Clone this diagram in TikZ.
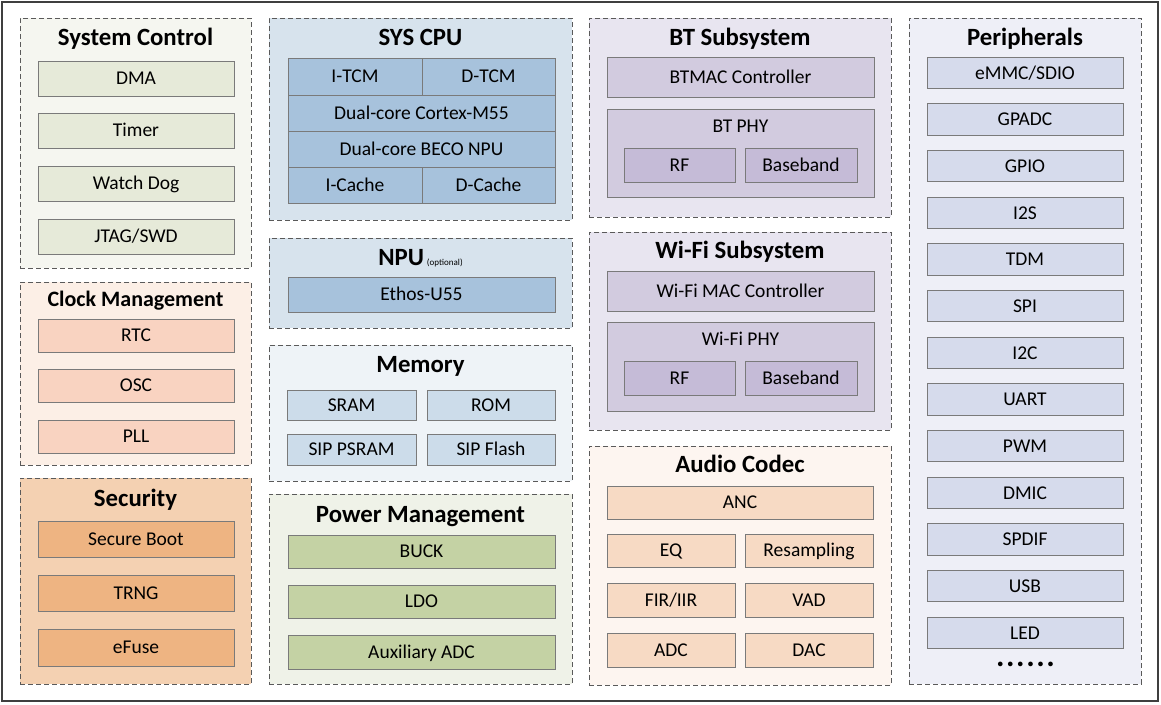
\documentclass[tikz,border=0pt]{standalone}
\usepackage{fontspec}
\setmainfont{Carlito}
\definecolor{dashc}{HTML}{5A5A5A}
\definecolor{boxc}{HTML}{7A7A7A}
\definecolor{framec}{HTML}{3F3F3F}
\definecolor{scG}{HTML}{F5F6F0}\definecolor{scB}{HTML}{E6EAD9}
\definecolor{clkG}{HTML}{FCEFE6}\definecolor{clkB}{HTML}{F9D3C1}
\definecolor{secG}{HTML}{F4D1B2}\definecolor{secB}{HTML}{EEB482}
\definecolor{cpuG}{HTML}{D7E3ED}\definecolor{cpuB}{HTML}{A7C2DC}
\definecolor{memG}{HTML}{EEF3F7}\definecolor{memB}{HTML}{CCDCEA}
\definecolor{pwrG}{HTML}{EFF2E8}\definecolor{pwrB}{HTML}{C4D2A4}
\definecolor{btG}{HTML}{E8E5F0}\definecolor{btB}{HTML}{D2CBDF}\definecolor{btI}{HTML}{C5BBD7}
\definecolor{audG}{HTML}{FDF5F0}\definecolor{audB}{HTML}{F7DAC4}
\definecolor{perG}{HTML}{EEEFF7}\definecolor{perB}{HTML}{D6DBEC}
\newcommand\lblf{\fontsize{19.5}{23}\selectfont}
\newcommand\ttlf{\fontsize{24.8}{29}\selectfont\bfseries}
\newcommand\blk[7]{\node[#6, minimum width={(#4)-(#2)}, minimum height={(#5)-(#3)}] (#1) at ({((#2)+(#4))/2},{((#3)+(#5))/2}) {#7};}
\tikzset{
  grp/.style={draw=dashc, dash pattern=on 5pt off 3pt, line width=0.9pt, inner sep=0pt, outer sep=0pt},
  bx/.style={draw=boxc, line width=0.9pt, inner sep=0pt, outer sep=0pt, font=\lblf, text height=12.6pt, text depth=0pt},
  ttl/.style={font=\ttlf, anchor=base, inner sep=0pt},
  sublbl/.style={font=\lblf, anchor=base, inner sep=0pt}
}
\begin{document}
\begin{tikzpicture}[x=1pt,y=-1pt]
\useasboundingbox (0,0) rectangle (1161,704);
\fill[white] (0,0) rectangle (1161,704);
\blk{frame}{2}{2}{1158}{701}{draw=framec, line width=2pt, inner sep=0pt}{}
% System Control
\blk{sc}{20}{18}{251}{268}{grp, fill=scG}{}
\node[ttl] (scT) at (135.5,45.5) {System Control};
\blk{dma}{38}{61}{234}{96}{bx, fill=scB}{DMA}
\blk{timer}{38}{113}{234}{148}{bx, fill=scB}{Timer}
\blk{wdog}{38}{166}{234}{201}{bx, fill=scB}{Watch Dog}
\blk{jtag}{38}{219}{234}{254}{bx, fill=scB}{JTAG/SWD}
% Clock Management
\blk{clk}{20}{282}{251}{465}{grp, fill=clkG}{}
\node[ttl, font=\fontsize{22}{26}\selectfont\bfseries] (clkT) at (135.5,306.5) {Clock Management};
\blk{rtc}{38}{319}{234}{352}{bx, fill=clkB}{RTC}
\blk{osc}{38}{369}{234}{402}{bx, fill=clkB}{OSC}
\blk{pll}{38}{420}{234}{453}{bx, fill=clkB}{PLL}
% Security
\blk{sec}{20}{478}{251}{684}{grp, fill=secG}{}
\node[ttl] (secT) at (135.5,506) {Security};
\blk{sboot}{38}{521}{234}{557}{bx, fill=secB}{Secure Boot}
\blk{trng}{38}{575}{234}{611}{bx, fill=secB}{TRNG}
\blk{efuse}{38}{629}{234}{666}{bx, fill=secB}{eFuse}
% SYS CPU
\blk{cpu}{269}{18}{572}{220}{grp, fill=cpuG}{}
\node[ttl] (cpuT) at (420.5,45.5) {SYS CPU};
\blk{itcm}{288}{58}{422}{95}{bx, fill=cpuB}{I-TCM}
\blk{dtcm}{422}{58}{555}{95}{bx, fill=cpuB}{D-TCM}
\blk{m55}{288}{95}{555}{131}{bx, fill=cpuB}{Dual-core Cortex-M55}
\blk{beco}{288}{131}{555}{167}{bx, fill=cpuB}{Dual-core BECO NPU}
\blk{icache}{288}{167}{422}{203}{bx, fill=cpuB}{I-Cache}
\blk{dcache}{422}{167}{555}{203}{bx, fill=cpuB}{D-Cache}
% NPU
\blk{npu}{269}{238}{572}{328}{grp, fill=cpuG}{}
\node[ttl] (npuT) at (420.5,265) {NPU\kern3pt{\fontsize{9}{9}\selectfont\mdseries(optional)}};
\blk{ethos}{288}{277}{555}{312}{bx, fill=cpuB}{Ethos-U55}
% Memory
\blk{mem}{269}{345}{572}{481}{grp, fill=memG}{}
\node[ttl] (memT) at (420.5,372) {Memory};
\blk{sram}{287}{390}{416}{420}{bx, fill=memB}{SRAM}
\blk{rom}{427}{390}{555}{420}{bx, fill=memB}{ROM}
\blk{psram}{287}{434}{416}{465}{bx, fill=memB}{SIP PSRAM}
\blk{flash}{427}{434}{555}{465}{bx, fill=memB}{SIP Flash}
% Power Management
\blk{pwr}{269}{494}{572}{684}{grp, fill=pwrG}{}
\node[ttl] (pwrT) at (420.5,522.5) {Power Management};
\blk{buck}{288}{535}{555}{568}{bx, fill=pwrB}{BUCK}
\blk{ldo}{288}{585}{555}{618}{bx, fill=pwrB}{LDO}
\blk{auxadc}{288}{635}{555}{669}{bx, fill=pwrB}{Auxiliary ADC}
% BT Subsystem
\blk{bt}{589}{18}{891}{217}{grp, fill=btG}{}
\node[ttl] (btT) at (740,45.5) {BT Subsystem};
\blk{btmac}{607}{57}{874}{97}{bx, fill=btB}{BTMAC Controller}
\blk{btphy}{607}{109}{874}{197}{bx, fill=btB}{}
\node[sublbl] (btphyT) at (740.5,132) {BT PHY};
\blk{btrf}{624}{148}{735}{182}{bx, fill=btI}{RF}
\blk{btbb}{745}{148}{857}{182}{bx, fill=btI}{Baseband}
% Wi-Fi Subsystem
\blk{wf}{589}{232}{891}{430}{grp, fill=btG}{}
\node[ttl] (wfT) at (740,258) {Wi-Fi Subsystem};
\blk{wfmac}{607}{271}{874}{311}{bx, fill=btB}{Wi-Fi MAC Controller}
\blk{wfphy}{607}{322}{874}{411}{bx, fill=btB}{}
\node[sublbl] (wfphyT) at (740.5,345.5) {Wi-Fi PHY};
\blk{wfrf}{624}{361}{735}{395}{bx, fill=btI}{RF}
\blk{wfbb}{745}{361}{857}{395}{bx, fill=btI}{Baseband}
% Audio Codec
\blk{aud}{589}{446}{891}{685}{grp, fill=audG}{}
\node[ttl] (audT) at (740,472.5) {Audio Codec};
\blk{anc}{607}{486}{873}{519}{bx, fill=audB}{ANC}
\blk{eq}{607}{534}{735}{567}{bx, fill=audB}{EQ}
\blk{resamp}{745}{534}{873}{567}{bx, fill=audB}{Resampling}
\blk{fir}{607}{583}{735}{617}{bx, fill=audB}{FIR/IIR}
\blk{vad}{745}{583}{873}{617}{bx, fill=audB}{VAD}
\blk{adc}{607}{633}{735}{667}{bx, fill=audB}{ADC}
\blk{dac}{745}{633}{873}{667}{bx, fill=audB}{DAC}
% Peripherals
\blk{per}{909}{18}{1141}{684}{grp, fill=perG}{}
\node[ttl] (perT) at (1025,45.5) {Peripherals};
\foreach \t [count=\i from 0] in {eMMC/SDIO,GPADC,GPIO,I2S,TDM,SPI,I2C,UART,PWM,DMIC,SPDIF,USB,LED}{
  \pgfmathsetmacro\yt{57+\i*46.67}
  \pgfmathsetmacro\yb{\yt+31.5}
  \blk{p\i}{927}{\yt}{1123}{\yb}{bx, fill=perB}{\t}
}
\node[inner sep=0pt, font=\fontsize{11}{11}\selectfont\bfseries] (dots) at (1025.5,665) {•\kern4.6pt•\kern4.6pt•\kern4.6pt•\kern4.6pt•\kern4.6pt•};
\end{tikzpicture}
\end{document}
